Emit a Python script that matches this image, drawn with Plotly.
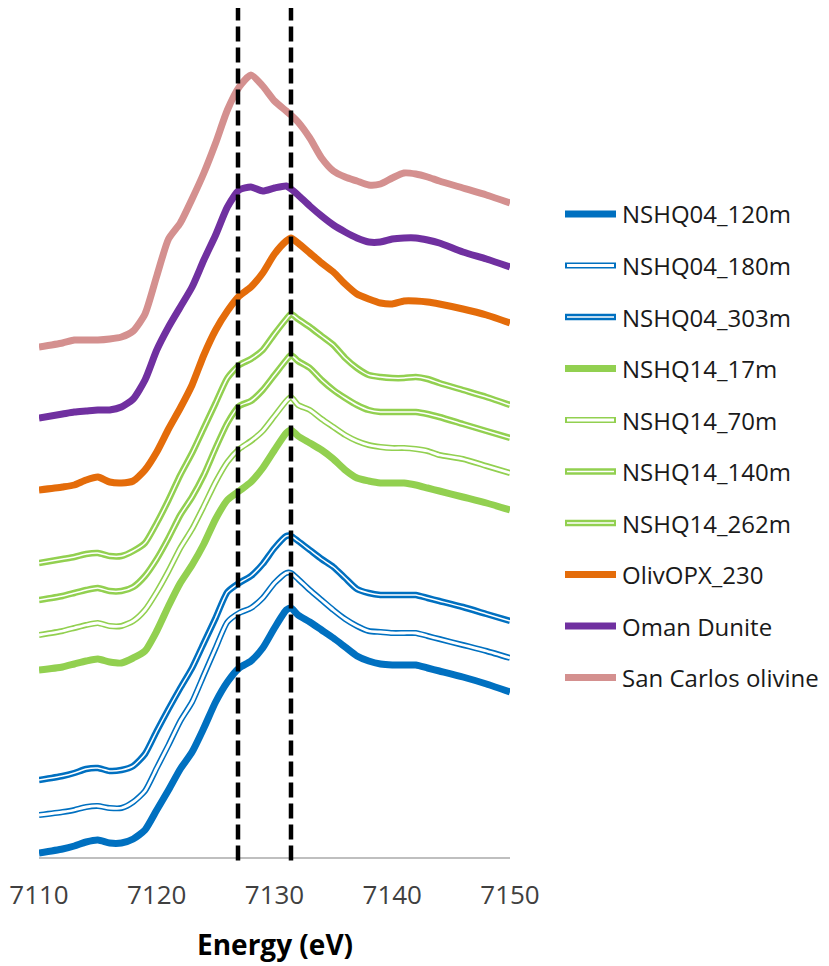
import plotly.graph_objects as go

# Energy grid (eV)
energy = [7110, 7112, 7113, 7114, 7115, 7116, 7117, 7118, 7119, 7120, 7121, 7122,
          7123, 7124, 7125, 7126, 7127, 7128, 7129, 7130, 7131, 7131.4, 7132, 7133,
          7134, 7135, 7136, 7137, 7138, 7139, 7140, 7141, 7142, 7143, 7144, 7146,
          7148, 7150]

# Normalized absorbance, vertically offset (arbitrary units)
nshq04_120m = [0.04, 0.08, 0.11, 0.15, 0.17, 0.14, 0.14, 0.18, 0.27, 0.47, 0.67, 0.88,
               1.05, 1.29, 1.55, 1.75, 1.89, 1.96, 2.09, 2.29, 2.47, 2.49, 2.42, 2.35,
               2.27, 2.19, 2.10, 2.01, 1.96, 1.93, 1.92, 1.92, 1.92, 1.89, 1.86, 1.80,
               1.73, 1.65]
nshq04_180m = [0.42, 0.45, 0.47, 0.50, 0.51, 0.49, 0.49, 0.55, 0.66, 0.89, 1.12, 1.36,
               1.55, 1.82, 2.09, 2.35, 2.44, 2.49, 2.59, 2.74, 2.84, 2.84, 2.78, 2.67,
               2.57, 2.47, 2.38, 2.31, 2.26, 2.25, 2.24, 2.24, 2.24, 2.21, 2.18, 2.12,
               2.06, 1.99]
nshq04_303m = [0.77, 0.81, 0.84, 0.88, 0.89, 0.86, 0.87, 0.91, 1.03, 1.26, 1.48, 1.69,
               1.89, 2.14, 2.39, 2.65, 2.74, 2.81, 2.93, 3.09, 3.21, 3.21, 3.16, 3.07,
               2.98, 2.90, 2.79, 2.68, 2.64, 2.62, 2.62, 2.62, 2.62, 2.59, 2.56, 2.50,
               2.43, 2.36]
nshq14_17m = [1.87, 1.90, 1.93, 1.96, 1.98, 1.95, 1.94, 1.99, 2.06, 2.26, 2.51, 2.74,
              2.92, 3.13, 3.38, 3.57, 3.66, 3.75, 3.89, 4.07, 4.24, 4.27, 4.21, 4.14,
              4.07, 3.98, 3.87, 3.79, 3.76, 3.74, 3.74, 3.74, 3.72, 3.69, 3.66, 3.60,
              3.54, 3.47]
nshq14_70m = [2.22, 2.26, 2.29, 2.32, 2.34, 2.31, 2.31, 2.36, 2.47, 2.65, 2.86, 3.09,
              3.28, 3.51, 3.75, 3.95, 4.08, 4.16, 4.26, 4.41, 4.56, 4.60, 4.52, 4.47,
              4.38, 4.30, 4.22, 4.16, 4.12, 4.10, 4.09, 4.09, 4.08, 4.06, 4.02, 3.98,
              3.91, 3.84]
nshq14_262m = [2.57, 2.61, 2.64, 2.67, 2.69, 2.66, 2.66, 2.70, 2.81, 2.98, 3.19, 3.42,
               3.60, 3.82, 4.09, 4.34, 4.51, 4.56, 4.67, 4.82, 4.97, 5.02, 4.96, 4.89,
               4.77, 4.67, 4.59, 4.52, 4.47, 4.45, 4.45, 4.45, 4.45, 4.43, 4.40, 4.33,
               4.26, 4.19]
nshq14_140m = [2.94, 2.98, 3.00, 3.03, 3.04, 3.01, 3.01, 3.06, 3.14, 3.34, 3.57, 3.82,
               4.04, 4.29, 4.54, 4.79, 4.92, 4.98, 5.07, 5.23, 5.38, 5.43, 5.38, 5.30,
               5.21, 5.12, 4.99, 4.89, 4.82, 4.80, 4.79, 4.79, 4.80, 4.78, 4.74, 4.67,
               4.60, 4.52]
olivopx_230 = [3.67, 3.70, 3.72, 3.77, 3.80, 3.75, 3.74, 3.76, 3.87, 4.05, 4.28, 4.49,
               4.72, 5.02, 5.27, 5.46, 5.61, 5.70, 5.84, 6.03, 6.16, 6.19, 6.14, 6.04,
               5.94, 5.85, 5.73, 5.63, 5.58, 5.54, 5.53, 5.56, 5.56, 5.55, 5.53, 5.48,
               5.42, 5.34]
oman_dunite = [4.39, 4.43, 4.45, 4.46, 4.47, 4.47, 4.50, 4.58, 4.77, 5.07, 5.30, 5.50,
               5.70, 5.97, 6.22, 6.50, 6.67, 6.70, 6.66, 6.69, 6.71, 6.68, 6.62, 6.51,
               6.41, 6.32, 6.25, 6.19, 6.15, 6.15, 6.18, 6.19, 6.19, 6.17, 6.14, 6.05,
               5.98, 5.90]
san_carlos = [5.10, 5.14, 5.17, 5.17, 5.17, 5.18, 5.20, 5.26, 5.43, 5.81, 6.18, 6.34,
              6.58, 6.84, 7.14, 7.47, 7.70, 7.82, 7.71, 7.56, 7.46, 7.42, 7.35, 7.19,
              6.99, 6.86, 6.80, 6.76, 6.72, 6.73, 6.79, 6.84, 6.83, 6.80, 6.76, 6.69,
              6.62, 6.54]

series_names = ["NSHQ04_120m", "NSHQ04_180m", "NSHQ04_303m", "NSHQ14_17m", "NSHQ14_70m",
                "NSHQ14_140m", "NSHQ14_262m", "OlivOPX_230", "Oman Dunite", "San Carlos olivine"]
series_values = [nshq04_120m, nshq04_180m, nshq04_303m, nshq14_17m, nshq14_70m,
                 nshq14_140m, nshq14_262m, olivopx_230, oman_dunite, san_carlos]

reference_energies = [7126.9, 7131.4]
x_ticks = [7110, 7120, 7130, 7140, 7150]

BLUE, GREEN, ORANGE, PURPLE, PINK = "#0070C0", "#92D050", "#E46C0A", "#7030A0", "#D4908F"
# (color, outer width, inner white width or None)
styles = [
    (BLUE, 7, None),
    (BLUE, 6.0, 2.8),
    (BLUE, 6.5, 1.5),
    (GREEN, 7, None),
    (GREEN, 6.0, 2.8),
    (GREEN, 6.5, 1.5),
    (GREEN, 6.5, 1.5),
    (ORANGE, 7, None),
    (PURPLE, 7, None),
    (PINK, 7, None),
]

fig = go.Figure()
for name, vals, (col, w, inner) in zip(series_names, series_values, styles):
    fig.add_trace(go.Scatter(x=energy, y=vals, mode="lines", name=name,
                             line=dict(color=col, width=w, shape="spline", smoothing=0.6),
                             showlegend=False, hoverinfo="skip"))
    if inner:
        fig.add_trace(go.Scatter(x=energy, y=vals, mode="lines", name=name,
                                 line=dict(color="white", width=inner, shape="spline", smoothing=0.6),
                                 showlegend=False, hoverinfo="skip"))

shapes = []
for e in reference_energies:
    shapes.append(dict(type="line", xref="x", yref="paper", x0=e, x1=e, y0=-0.004, y1=1.0,
                       line=dict(color="black", width=4.5, dash="15px,6px"), layer="above"))

# custom legend (to show double-line styles); positions in page pixels
plot_left, plot_w, plot_bottom, plot_h = 39, 471, 857, 849
def px_x(p):
    return (p - plot_left) / plot_w
def px_y(p):
    return (plot_bottom - p) / plot_h

annotations = []
for i, (name, (col, w, inner)) in enumerate(zip(series_names, styles)):
    yy = px_y(214 + i * 51.5)
    shapes.append(dict(type="line", xref="paper", yref="paper", x0=px_x(565), x1=px_x(616),
                       y0=yy, y1=yy, line=dict(color=col, width=w)))
    if inner:
        shapes.append(dict(type="line", xref="paper", yref="paper", x0=px_x(567), x1=px_x(614),
                           y0=yy, y1=yy, line=dict(color="white", width=inner)))
    annotations.append(dict(xref="paper", yref="paper", x=px_x(620), y=yy, text=name,
                            showarrow=False, xanchor="left", yanchor="middle",
                            font=dict(family="Open Sans", size=24, color="#1a1a1a")))

annotations.append(dict(xref="paper", yref="paper", x=0.5, y=px_y(944), text="<b>Energy (eV)</b>",
                        showarrow=False, xanchor="center", yanchor="middle",
                        font=dict(family="Open Sans", size=28, color="black")))

# page body has an 8px margin, so the figure is 8px smaller and shifted
fig.update_layout(
    width=821, height=958,
    margin=dict(l=31, r=319, t=0, b=109, autoexpand=False),
    paper_bgcolor="white", plot_bgcolor="white",
    shapes=shapes, annotations=annotations,
    showlegend=False,
    xaxis=dict(range=[7110, 7150], tickvals=x_ticks, showgrid=False, zeroline=False,
               showline=True, linecolor="#BFBFBF", linewidth=1.5,
               ticks="", ticklabelstandoff=14, automargin=False,
               tickfont=dict(family="Open Sans", size=26, color="#404040")),
    yaxis=dict(range=[0, 8.49], visible=False),
)

fig.write_html("out.html")
